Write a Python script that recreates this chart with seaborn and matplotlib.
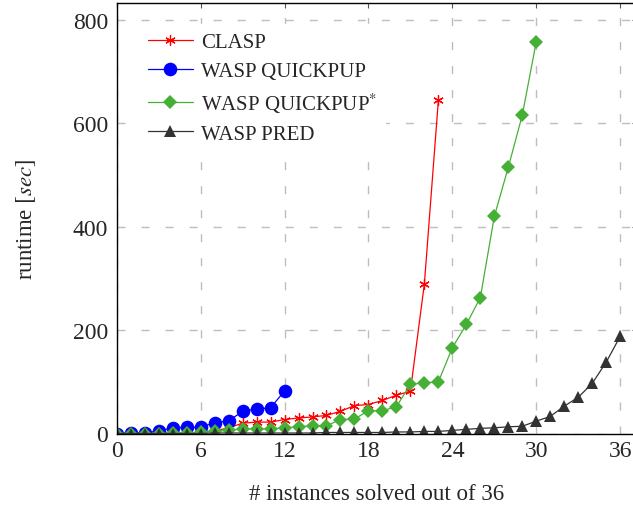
import matplotlib
matplotlib.use("Agg")
import matplotlib.pyplot as plt
import seaborn as sns
import numpy as np
import pandas as pd

# ---- data ----
clasp_y = [0, 0, 0, 0, 1, 1, 2, 5, 11, 20, 22, 22, 27, 30, 32, 35, 43, 54, 56, 64, 74, 82, 290, 645]
quickpup_y = [0, 1, 1, 5, 11, 12, 12, 21, 24, 43, 47, 50, 82]
quickpup_star_y = [0, 0, 0, 0, 1, 1, 2, 4, 6, 9, 9, 9, 11, 13, 15, 15, 27, 28, 44, 44, 52,
                   95, 98, 100, 166, 211, 263, 420, 515, 616, 758]
pred_y = [0, 0, 0, 0, 0, 0, 0, 1, 1, 1, 1, 1, 1, 1, 1, 2, 2, 2, 2, 2, 3, 3, 4, 4,
          6, 8, 10, 11, 13, 14, 24, 33, 53, 70, 97, 138, 188]

labels = ["CLASP", "WASP QUICKPUP", "WASP QUICKPUP$^{*}$", "WASP PRED"]
xticks = [0, 6, 12, 18, 24, 30, 36]
yticks = [0, 200, 400, 600, 800]

sns.set_style("white")
plt.rcParams["font.family"] = ["Liberation Serif", "DejaVu Serif"]
plt.rcParams["mathtext.fontset"] = "stix"
plt.rcParams["lines.scale_dashes"] = False

fig = plt.figure(figsize=(6.33, 5.06), dpi=100)
ax = fig.add_axes([116.7 / 633, (506 - 434.5) / 506, (637 - 116.7) / 633, (434.5 - 4.3) / 506])

series = [
    (clasp_y, labels[0], "#ff0000", (6, 2, 0), 7.5, dict(markeredgewidth=0.9)),
    (quickpup_y, labels[1], "#0000ff", "o", 9.8, dict(markeredgewidth=0)),
    (quickpup_star_y, labels[2], "#45b035", "D", 7.0, dict(markeredgewidth=0)),
    (pred_y, labels[3], "#333333", "^", 8.0, dict(markeredgewidth=0)),
]

for vals, lab, col, mk, ms, extra in series:
    df = pd.DataFrame({"x": np.arange(len(vals)), "y": vals})
    sns.lineplot(data=df, x="x", y="y", ax=ax, color=col, marker=mk, markersize=ms,
                 markeredgecolor=col, linewidth=0.9, label=lab, **extra)

ax.set_xlim(0, 37.2)
ax.set_ylim(0, 832)
ax.set_xticks(xticks)
ax.set_yticks(yticks)
ax.tick_params(axis="both", which="major", labelsize=17, direction="in", length=3.5,
               color="#555555", top=True, right=True)
ax.tick_params(axis="x", pad=4.5)
ax.tick_params(axis="y", pad=6.3)
ax.grid(True, color="#bdbdbd", linewidth=1.0, linestyle=(0, (5.8, 11.5)))
ax.set_axisbelow(True)
for sp in ax.spines.values():
    sp.set_color("black")
    sp.set_linewidth(1.0)

ax.set_xlabel("# instances solved out of 36", fontsize=16.5, labelpad=16)
ax.set_ylabel("runtime $[sec]$", fontsize=16.5, labelpad=25)

leg = ax.legend(loc="upper left", bbox_to_anchor=(0.044, 0.952), fontsize=15,
                frameon=True, fancybox=False, edgecolor="white", framealpha=1.0,
                handlelength=2.16, handletextpad=0.38, labelspacing=0.45, borderpad=0.4,
                borderaxespad=0)

fig.savefig("out.png", dpi=100)
